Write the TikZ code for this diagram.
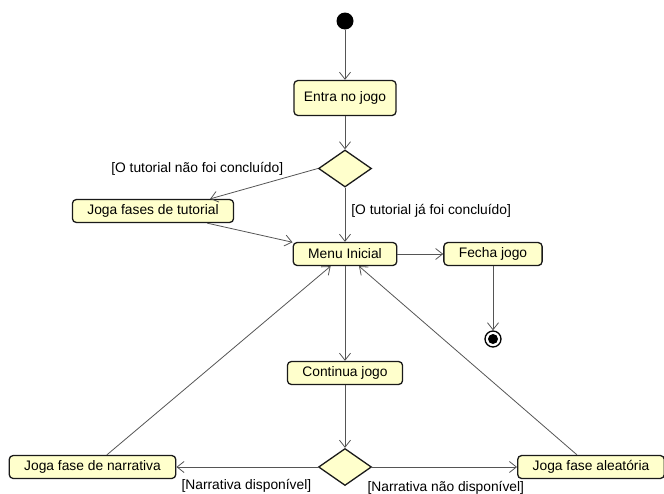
\documentclass[tikz,border=0pt]{standalone}
\usepackage{fontspec}
\setmainfont{Liberation Sans}
\usepackage{xcolor}
\usepackage{tikz}
\usetikzlibrary{positioning, arrows.meta, shapes.geometric}

\definecolor{actfill}{HTML}{FFFFCC}
\definecolor{actline}{HTML}{1A1A1A}
\definecolor{flowline}{HTML}{555555}

\begin{document}
\begin{tikzpicture}[
    on grid,
    act/.style={draw=actline, fill=actfill, line width=1.3pt, rounded corners=4pt, minimum height=23pt, inner xsep=15pt, inner ysep=0pt, font=\fontsize{13.8}{16}\selectfont},
    choice/.style={diamond, draw=actline, fill=actfill, line width=1.3pt, minimum width=53pt, minimum height=37pt, inner sep=0pt},
    initial/.style={circle, fill=black, minimum size=17pt, inner sep=0pt},
    final/.style={circle, draw=black, fill=white, line width=1.3pt, minimum size=16pt, inner sep=0pt, path picture={\fill[black] (path picture bounding box.center) circle (5pt);}},
    flow/.style={-{Straight Barb[length=7pt, width=11pt]}, draw=flowline, line width=0.8pt},
    guard/.style={font=\fontsize{13.8}{16}\selectfont, inner sep=2pt}
]
\useasboundingbox (0,0) rectangle (664pt,-493pt);

% Start and entry
\node[initial] (start) at (345pt,-21pt) {};
\node[act, below=77pt of start, minimum height=35pt, inner xsep=10pt] (entra) {Entra no jogo};
\node[choice, below=70.5pt of entra] (tut) {};

% Tutorial and menu
\node[act, below=85.5pt of tut] (menu) {Menu Inicial};
\node[act, left=192pt of menu, yshift=43pt] (tutorial) {Joga fases de tutorial};
\node[act, right=148pt of menu] (fecha) {Fecha jogo};
\node[final, below=85pt of fecha] (stop) {};

% Game loop
\node[act, below=119pt of menu] (continua) {Continua jogo};
\node[choice, below=94pt of continua] (narr) {};
\node[act, left=252.5pt of narr] (narrativa) {Joga fase de narrativa};
\node[act, right=246pt of narr] (aleatoria) {Joga fase aleatória};

% Flows
\draw[flow] (start) -- (entra);
\draw[flow] (entra) -- (tut);
\draw[flow] (tut.west) -- (tutorial.12) node[guard, pos=0.3, anchor=south east] {[O tutorial não foi concluído]};
\draw[flow] (tut) -- (menu) node[guard, pos=0.42, anchor=west, xshift=4pt] {[O tutorial já foi concluído]};
\draw[flow] (tutorial) -- (menu);
\draw[flow] (menu) -- (fecha);
\draw[flow] (fecha) -- (stop);
\draw[flow] (menu) -- (continua);
\draw[flow] (continua) -- (narr);
\draw[flow] (narr.west) -- (narrativa) node[guard, pos=0.03, anchor=north east, yshift=-10pt] {[Narrativa disponível]};
\draw[flow] (narr.east) -- (aleatoria) node[guard, pos=0, anchor=north west, xshift=-7pt, yshift=-11.5pt] {[Narrativa não disponível]};
\draw[flow] (narrativa) -- (menu);
\draw[flow] (aleatoria) -- (menu);

\end{tikzpicture}
\end{document}
